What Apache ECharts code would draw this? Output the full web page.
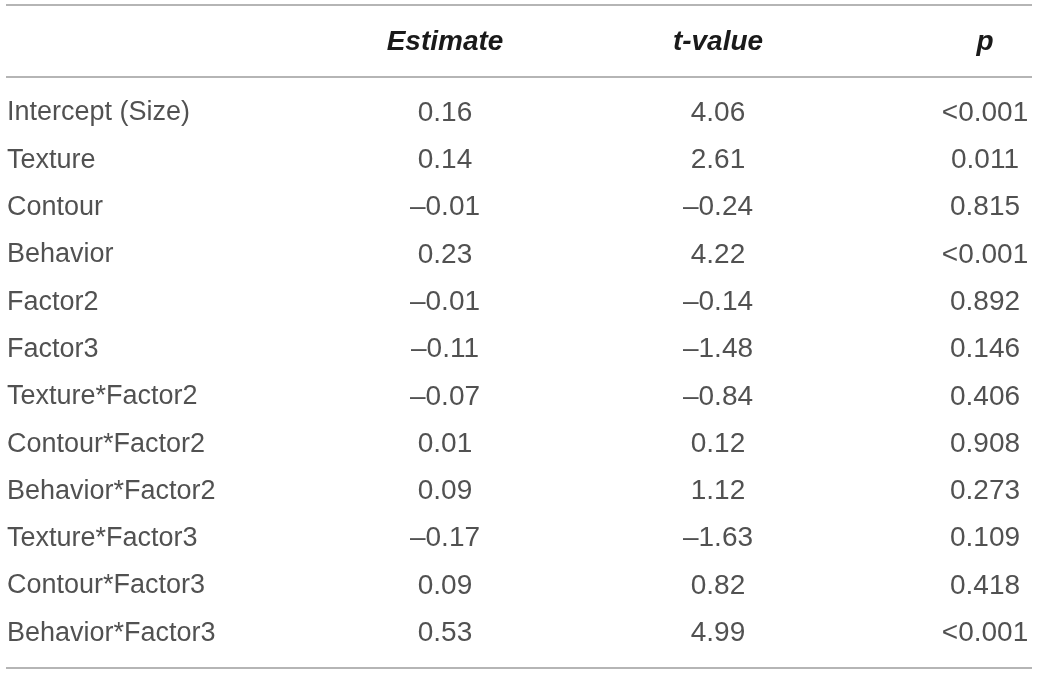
<!DOCTYPE html>
<html>
<head>
<meta charset="utf-8">
<script src="https://cdn.jsdelivr.net/npm/echarts@6/dist/echarts.min.js"></script>
<style>
  html, body { margin:0; padding:0; background:#fff; }
  #chart { width:1040px; height:674px; }
</style>
</head>
<body>
<div id="chart"></div>
<script>
// table content
var headers = ['', 'Estimate', 't-value', 'p'];
var terms = ['Intercept (Size)', 'Texture', 'Contour', 'Behavior', 'Factor2', 'Factor3',
  'Texture*Factor2', 'Contour*Factor2', 'Behavior*Factor2', 'Texture*Factor3',
  'Contour*Factor3', 'Behavior*Factor3'];
var estimate = ['0.16', '0.14', '\u20130.01', '0.23', '\u20130.01', '\u20130.11',
  '\u20130.07', '0.01', '0.09', '\u20130.17', '0.09', '0.53'];
var tValue = ['4.06', '2.61', '\u20130.24', '4.22', '\u20130.14', '\u20131.48',
  '\u20130.84', '0.12', '1.12', '\u20131.63', '0.82', '4.99'];
var pValue = ['<0.001', '0.011', '0.815', '<0.001', '0.892', '0.146',
  '0.406', '0.908', '0.273', '0.109', '0.418', '<0.001'];

// layout (pixels on a 0..1040 x scale)
var colX = [7, 445, 718, 985];
var colAlign = ['left', 'center', 'center', 'center'];
var colSize = [27, 28, 28, 28];
var rowH = 47.3;
var firstRowY = 113;
var headerY = 42;
var lineYs = [5, 77, 668];
var font = 'Liberation Sans';
var txt = '#262626';

var columns = [terms, estimate, tValue, pValue];

var series = columns.map(function (col, c) {
  return {
    type: 'scatter',
    symbolSize: 0,
    silent: true,
    data: col.map(function (v, i) { return { value: [colX[c], i], text: v }; }),
    label: {
      show: true,
      position: 'inside',
      align: colAlign[c],
      verticalAlign: 'middle',
      fontFamily: font,
      fontSize: colSize[c],
      color: txt,
      textBorderWidth: 0,
      formatter: function (p) { return p.data.text; }
    }
  };
});

var graphics = [];
lineYs.forEach(function (y) {
  graphics.push({
    type: 'line', silent: true,
    shape: { x1: 6, y1: y, x2: 1032, y2: y },
    style: { stroke: '#9c9c9c', lineWidth: 1.5 }
  });
});
headers.forEach(function (h, c) {
  if (!h) return;
  graphics.push({
    type: 'text', silent: true,
    x: colX[c], y: headerY,
    style: {
      text: h, fill: '#1a1a1a', align: colAlign[c], verticalAlign: 'middle',
      font: 'italic bold 28px "' + font + '"'
    }
  });
});

var chart = echarts.init(document.getElementById('chart'));
chart.setOption({
  animation: false,
  backgroundColor: '#fff',
  grid: { left: 0, right: 0, top: firstRowY - rowH / 2, height: rowH * terms.length },
  xAxis: { type: 'value', min: 0, max: 1040, show: false },
  yAxis: { type: 'category', data: terms, inverse: true, show: false },
  graphic: graphics,
  series: series
});
</script>
</body>
</html>
